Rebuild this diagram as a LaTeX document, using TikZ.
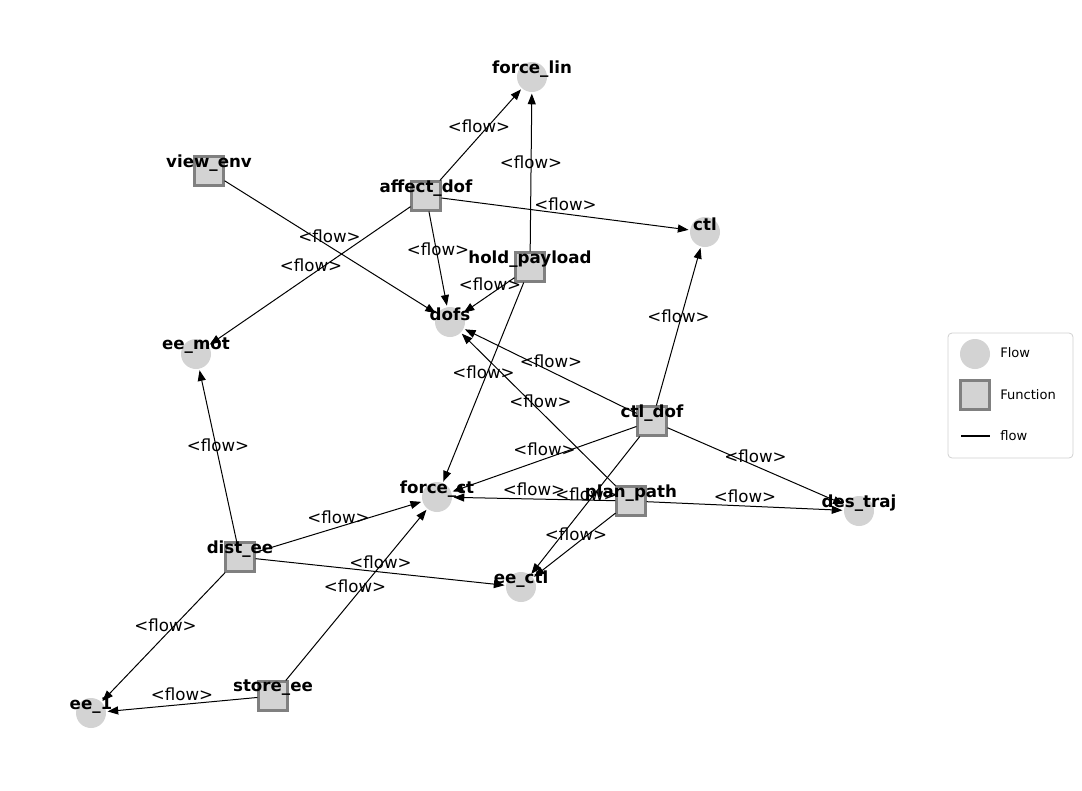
\documentclass[tikz,border=0pt]{standalone}
\usepackage{fontspec}
\setmainfont{DejaVu Sans}
\usetikzlibrary{arrows.meta}
\definecolor{nodefill}{HTML}{D3D3D3}
\definecolor{nodeborder}{HTML}{808080}
\begin{document}
\begin{tikzpicture}[x=0.75pt,y=-0.75pt,
  flownode/.style={circle,fill=nodefill,draw=none,minimum size=22.5pt,inner sep=0pt},
  funcnode/.style={rectangle,fill=nodefill,draw=nodeborder,line width=1.8pt,minimum size=21.5pt,inner sep=0pt},
  nlabel/.style={font=\bfseries\fontsize{12.5}{14}\selectfont,inner sep=0pt,yshift=-1.5pt},
  elabel/.style={font=\fontsize{12.5}{14}\selectfont,inner sep=0pt,yshift=7.5pt},
  flowedge/.style={draw=black,line width=0.75pt,-{Triangle[length=8pt,width=6pt]},shorten >=1pt},
  legtext/.style={font=\fontsize{9.8}{11}\selectfont,anchor=west,inner sep=0pt}]
\useasboundingbox (0,0) rectangle (1082,790);
% nodes
\node[flownode] (force_lin) at (532,77) {};
\node[funcnode] (view_env) at (209,171) {};
\node[funcnode] (affect_dof) at (426,196) {};
\node[flownode] (ctl) at (705,232) {};
\node[funcnode] (hold_payload) at (530,267) {};
\node[flownode] (dofs) at (450,322) {};
\node[flownode] (ee_mot) at (196,354) {};
\node[funcnode] (ctl_dof) at (652,421) {};
\node[flownode] (force_ct) at (437,497) {};
\node[funcnode] (plan_path) at (631,501) {};
\node[flownode] (des_traj) at (859,511) {};
\node[funcnode] (dist_ee) at (240,557) {};
\node[flownode] (ee_ctl) at (521,587) {};
\node[funcnode] (store_ee) at (273,696) {};
\node[flownode] (ee_1) at (91,713) {};
% edges
\foreach \s/\t in {affect_dof/force_lin, hold_payload/force_lin, affect_dof/ctl, affect_dof/ee_mot, affect_dof/dofs, view_env/dofs, hold_payload/dofs, hold_payload/force_ct, ctl_dof/ctl, ctl_dof/dofs, plan_path/dofs, ctl_dof/force_ct, ctl_dof/des_traj, plan_path/force_ct, ctl_dof/ee_ctl, plan_path/des_traj, plan_path/ee_ctl, dist_ee/ee_mot, dist_ee/force_ct, dist_ee/ee_ctl, store_ee/force_ct, dist_ee/ee_1, store_ee/ee_1}{
  \draw[flowedge] (\s) -- (\t);
  \path (\s.center) -- (\t.center) node[elabel,midway] (lab-\s-\t) {<flow>};
}
% node labels
\node[nlabel] (l_force_lin) at (532,67) {force\_lin};
\node[nlabel] (l_view_env) at (209,161) {view\_env};
\node[nlabel] (l_affect_dof) at (426,186) {affect\_dof};
\node[nlabel] (l_ctl) at (705,222) {ctl};
\node[nlabel] (l_hold_payload) at (530,257) {hold\_payload};
\node[nlabel] (l_dofs) at (450,312) {dofs};
\node[nlabel] (l_ee_mot) at (196,344) {ee\_mot};
\node[nlabel] (l_ctl_dof) at (652,411) {ctl\_dof};
\node[nlabel] (l_force_ct) at (437,487) {force\_ct};
\node[nlabel] (l_plan_path) at (631,491) {plan\_path};
\node[nlabel] (l_des_traj) at (859,501) {des\_traj};
\node[nlabel] (l_dist_ee) at (240,547) {dist\_ee};
\node[nlabel] (l_ee_ctl) at (521,577) {ee\_ctl};
\node[nlabel] (l_store_ee) at (273,686) {store\_ee};
\node[nlabel] (l_ee_1) at (91,703) {ee\_1};
% legend
\draw[rounded corners=3pt,draw=black!18,line width=0.6pt,fill=white] (948,333) rectangle (1073,458);
\node[flownode] (leg_flow) at (975,354) {};
\node[legtext] (leg_flow_t) at (1000,353) {Flow};
\node[funcnode] (leg_func) at (975,395) {};
\node[legtext] (leg_func_t) at (1000,395) {Function};
\coordinate (leg_a) at (961,436);
\coordinate (leg_b) at (990,436);
\draw[line width=1.1pt] (leg_a) -- (leg_b);
\node[legtext] (leg_edge_t) at (1000,436) {flow};
\end{tikzpicture}
\end{document}
